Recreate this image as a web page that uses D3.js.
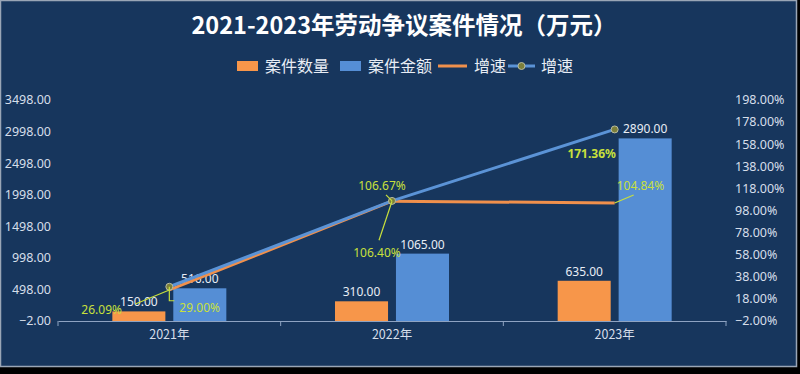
<!DOCTYPE html>
<meta charset="utf-8">
<style>
  body { margin: 0; background: #000; }
  svg { display: block; }
  text { font-family: "Noto Sans", "Noto Sans CJK SC", sans-serif; }
  .cjk { font-family: "Noto Sans CJK SC", sans-serif; }
  .tick-label { fill: #d6deea; font-size: 12.5px; }
  .bar-label { fill: #e8edf5; font-size: 12px; }
  .pct-label { fill: #c8e03c; font-size: 12px; }
</style>
<body>
<script src="https://d3js.org/d3.v7.min.js"></script>
<script>
  // data
  const categories = ["2021年", "2022年", "2023年"];
  const countValues = [150, 310, 635];        // 案件数量
  const amountValues = [516, 1065, 2890];     // 案件金额
  const countGrowth = [26.09, 106.40, 104.84]; // 增速 (数量)
  const amountGrowth = [29.00, 106.67, 171.36]; // 增速 (金额)
  const leftTicks = [-2, 498, 998, 1498, 1998, 2498, 2998, 3498];
  const rightTicks = [-2, 18, 38, 58, 78, 98, 118, 138, 158, 178, 198];

  const W = 800, H = 374;
  const plot = { left: 58, right: 726, top: 100, bottom: 321 };

  const svg = d3.select("body").append("svg")
    .attr("width", W).attr("height", H);

  // background + frame
  svg.append("rect").attr("x", 0).attr("y", 0).attr("width", W).attr("height", H).attr("fill", "#000");
  svg.append("rect").attr("x", 0.5).attr("y", 0.5).attr("width", 796).attr("height", 366)
    .attr("fill", "#17365d").attr("stroke", "#9aa6b6").attr("stroke-width", 1.5);

  // title
  svg.append("text").attr("class", "cjk")
    .attr("x", 404).attr("y", 34)
    .attr("text-anchor", "middle")
    .attr("font-size", 23.5).attr("font-weight", "bold").attr("fill", "#fff")
    .text("2021-2023年劳动争议案件情况（万元）");

  // scales
  const x = d3.scaleBand().domain(categories).range([plot.left, plot.right]);
  const xs = d3.scaleBand().domain(["count", "amount"]).range([x.bandwidth() / 2 - 57, x.bandwidth() / 2 + 57]).paddingInner(0.13);
  const yL = d3.scaleLinear().domain([-2, 3498]).range([plot.bottom, plot.top]);
  const yR = d3.scaleLinear().domain([-2, 198]).range([plot.bottom, plot.top]);

  // left axis labels
  svg.append("g").selectAll("text").data(leftTicks).join("text")
    .attr("class", "tick-label")
    .attr("x", 51).attr("y", d => yL(d)).attr("dy", "0.35em")
    .attr("text-anchor", "end")
    .text(d => d3.format(".2f")(d));

  // right axis labels
  svg.append("g").selectAll("text").data(rightTicks).join("text")
    .attr("class", "tick-label")
    .attr("x", 735).attr("y", d => yR(d)).attr("dy", "0.35em")
    .attr("text-anchor", "start")
    .text(d => d3.format(".2f")(d) + "%");

  // x axis
  const xAxis = d3.axisBottom(x).tickSize(0).tickPadding(9);
  const gx = svg.append("g").attr("transform", `translate(0,${plot.bottom})`).call(xAxis);
  gx.select(".domain").attr("stroke", "#8ea3c2").attr("stroke-width", 1.2);
  gx.selectAll("text").attr("class", "cjk").attr("fill", "#d6deea").attr("font-size", 12.5);
  // band separators
  const seps = [plot.left].concat(categories.map(c => x(c) + x.bandwidth()));
  gx.selectAll(".sep").data(seps).join("line")
    .attr("x1", d => d).attr("x2", d => d).attr("y1", 0).attr("y2", 5)
    .attr("stroke", "#8ea3c2");

  // bars
  const barData = categories.map((c, i) => [
    { c, key: "count", v: countValues[i], color: "#f7964a" },
    { c, key: "amount", v: amountValues[i], color: "#558ed5" }
  ]).flat();

  svg.append("g").selectAll("rect").data(barData).join("rect")
    .attr("x", d => x(d.c) + xs(d.key))
    .attr("width", xs.bandwidth())
    .attr("y", d => yL(d.v))
    .attr("height", d => yL(-2) - yL(d.v))
    .attr("fill", d => d.color);

  svg.append("g").selectAll("text").data(barData).join("text")
    .attr("class", "bar-label")
    .attr("x", d => x(d.c) + xs(d.key) + xs.bandwidth() / 2)
    .attr("y", d => yL(d.v) - 5)
    .attr("text-anchor", "middle")
    .text(d => d3.format(".2f")(d.v));

  // growth lines
  const cx = c => x(c) + x.bandwidth() / 2;
  const line = d3.line().x(d => cx(d.c)).y(d => yR(d.v));
  const countLine = categories.map((c, i) => ({ c, v: countGrowth[i] }));
  const amountLine = categories.map((c, i) => ({ c, v: amountGrowth[i] }));

  svg.append("path").datum(countLine).attr("d", line)
    .attr("fill", "none").attr("stroke", "#f0904c").attr("stroke-width", 3);
  svg.append("path").datum(amountLine).attr("d", line)
    .attr("fill", "none").attr("stroke", "#5b93d6").attr("stroke-width", 3);
  svg.append("g").selectAll("circle").data(amountLine).join("circle")
    .attr("cx", d => cx(d.c)).attr("cy", d => yR(d.v)).attr("r", 3.5)
    .attr("fill", "#7c7f3a").attr("stroke", "#b8bca0").attr("stroke-width", 1);

  // growth labels with leader lines (offsets relative to point)
  const pctLabels = [
    { series: countLine, i: 0, dx: -88, dy: 20, anchor: "start", leader: [[0, 0], [-34, 14]] },
    { series: amountLine, i: 0, dx: 10, dy: 21, anchor: "start", leader: [[0, 0], [0, 14], [5, 14]] },
    { series: amountLine, i: 1, dx: -10, dy: -15, anchor: "middle", leader: [[0, 0], [-6, -6]] },
    { series: countLine, i: 1, dx: -15, dy: 52, anchor: "middle", leader: [[0, 0], [-13, 39]] },
    { series: amountLine, i: 2, dx: -23, dy: 24, anchor: "middle", bold: true },
    { series: countLine, i: 2, dx: 2, dy: -17, anchor: "start", leader: [[0, 0], [19, -8]] }
  ];
  pctLabels.forEach(l => {
    const d = l.series[l.i];
    const px = cx(d.c), py = yR(d.v);
    if (l.leader) {
      svg.append("path")
        .attr("d", d3.line()(l.leader.map(p => [px + p[0], py + p[1]])))
        .attr("fill", "none").attr("stroke", "#c8e03c").attr("stroke-width", 1.2);
    }
    svg.append("text").attr("class", "pct-label")
      .attr("x", px + l.dx).attr("y", py + l.dy).attr("dy", "0.35em")
      .attr("text-anchor", l.anchor)
      .attr("font-weight", l.bold ? "bold" : null)
      .text(d3.format(".2f")(d.v) + "%");
  });

  // legend
  const legend = svg.append("g").attr("class", "cjk");
  const ly = 66;
  legend.append("rect").attr("x", 237).attr("y", ly - 5).attr("width", 21).attr("height", 10).attr("fill", "#f7964a");
  legend.append("text").attr("x", 265).attr("y", ly).attr("dy", "0.35em").attr("font-size", 16).attr("fill", "#e8edf5").attr("class", "cjk").text("案件数量");
  legend.append("rect").attr("x", 340).attr("y", ly - 5).attr("width", 21).attr("height", 10).attr("fill", "#558ed5");
  legend.append("text").attr("x", 368).attr("y", ly).attr("dy", "0.35em").attr("font-size", 16).attr("fill", "#e8edf5").attr("class", "cjk").text("案件金额");
  legend.append("line").attr("x1", 438).attr("x2", 467).attr("y1", ly).attr("y2", ly).attr("stroke", "#f0904c").attr("stroke-width", 3);
  legend.append("text").attr("x", 474).attr("y", ly).attr("dy", "0.35em").attr("font-size", 16).attr("fill", "#e8edf5").attr("class", "cjk").text("增速");
  legend.append("line").attr("x1", 508).attr("x2", 535).attr("y1", ly).attr("y2", ly).attr("stroke", "#5b93d6").attr("stroke-width", 3);
  legend.append("circle").attr("cx", 521.5).attr("cy", ly).attr("r", 3.5).attr("fill", "#7c7f3a").attr("stroke", "#b8bca0");
  legend.append("text").attr("x", 541).attr("y", ly).attr("dy", "0.35em").attr("font-size", 16).attr("fill", "#e8edf5").attr("class", "cjk").text("增速");
</script>
</body>
</html>
